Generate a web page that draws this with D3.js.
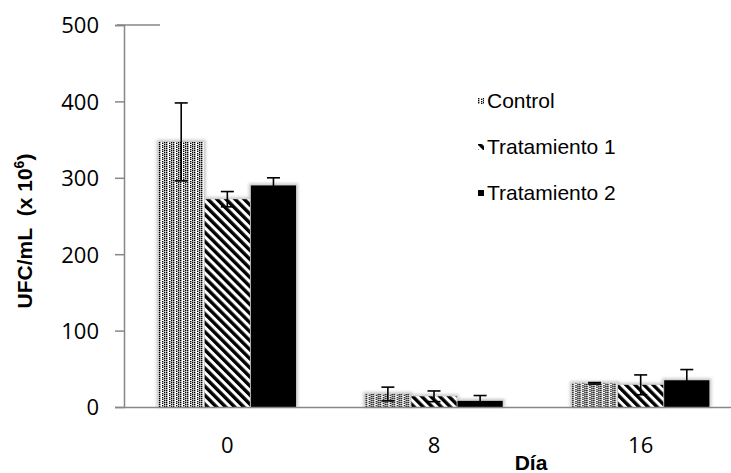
<!DOCTYPE html>
<html>
<head>
<meta charset="utf-8">
<script src="https://cdn.jsdelivr.net/npm/d3@7"></script>
<style>
  body { margin: 0; background: #fff; }
  svg { display: block; }
</style>
</head>
<body>
<svg id="chart" width="731" height="473"></svg>
<script>
  // data
  var days = ['0', '8', '16'];
  var series = ['Control', 'Tratamiento 1', 'Tratamiento 2'];
  var control = [347, 17, 31];
  var controlErr = [51, 9, 1];
  var trat1 = [272, 14, 29];
  var trat1Err = [10, 7, 13];
  var trat2 = [290, 8, 35];
  var trat2Err = [10, 7, 14];
  var yTicks = [0, 100, 200, 300, 400, 500];

  var values = [control, trat1, trat2];
  var errors = [controlErr, trat1Err, trat2Err];
  var fills = ['url(#dots)', 'url(#stripes)', '#000'];

  var svg = d3.select('#chart');
  var axisColor = '#878787';

  var x0 = d3.scaleBand().domain(days).range([124, 744]).padding(0);
  var x1 = d3.scaleBand().domain(series)
    .range([x0.bandwidth() * 0.163, x0.bandwidth() * 0.837]).padding(0.02);
  var y = d3.scaleLinear().domain([0, 500]).range([407, 25]);

  // patterns
  var defs = svg.append('defs');
  var dots = defs.append('pattern').attr('id', 'dots')
    .attr('patternUnits', 'userSpaceOnUse').attr('width', 7).attr('height', 4);
  dots.append('rect').attr('width', 7).attr('height', 4).attr('fill', '#fff');
  [[0, 0], [0, 2], [3, 1], [3, 3], [5, 0], [5, 2]].forEach(function (p) {
    dots.append('rect').attr('x', p[0]).attr('y', p[1])
      .attr('width', 1.4).attr('height', 1.4).attr('fill', '#000');
  });

  var stripes = defs.append('pattern').attr('id', 'stripes')
    .attr('patternUnits', 'userSpaceOnUse').attr('width', 6.4).attr('height', 6.4)
    .attr('patternTransform', 'rotate(-45)');
  stripes.append('rect').attr('width', 6.4).attr('height', 6.4).attr('fill', '#fff');
  stripes.append('rect').attr('width', 3.4).attr('height', 6.4).attr('fill', '#000');

  var blur = defs.append('filter').attr('id', 'soft')
    .attr('x', '-20%').attr('y', '-20%').attr('width', '140%').attr('height', '140%');
  blur.append('feGaussianBlur').attr('stdDeviation', 1.6);

  // short top stroke at 500
  svg.append('line')
    .attr('x1', 117).attr('x2', 160).attr('y1', y(500)).attr('y2', y(500))
    .attr('stroke', axisColor).attr('stroke-width', 1.5);

  var yAxis = svg.append('g')
    .attr('transform', 'translate(' + x0.range()[0] + ',0)')
    .call(d3.axisLeft(y).tickValues(yTicks).tickSize(9).tickPadding(16));
  yAxis.select('.domain').attr('stroke', axisColor).attr('stroke-width', 1.5);
  yAxis.selectAll('.tick line').attr('stroke', axisColor).attr('stroke-width', 1.5);
  yAxis.selectAll('.tick text')
    .attr('font-family', '"Open Sans", sans-serif').attr('font-size', 22)
    .attr('fill', '#000').attr('dy', '0.36em');

  // bars
  var groups = svg.selectAll('g.day').data(days).enter().append('g')
    .attr('class', 'day')
    .attr('transform', function (d) { return 'translate(' + x0(d) + ',0)'; });

  series.forEach(function (s, si) {
    groups.append('rect')
      .attr('x', x1(s) - 2).attr('y', function (d, di) { return y(values[si][di]) - 2; })
      .attr('width', x1.bandwidth() + 4)
      .attr('height', function (d, di) { return y(0) - y(values[si][di]) + 2; })
      .attr('fill', '#c8c8c8').attr('filter', 'url(#soft)');
  });
  series.forEach(function (s, si) {
    groups.append('rect')
      .attr('x', x1(s)).attr('y', function (d, di) { return y(values[si][di]); })
      .attr('width', x1.bandwidth())
      .attr('height', function (d, di) { return y(0) - y(values[si][di]); })
      .attr('fill', fills[si]);
  });

  // error bars
  series.forEach(function (s, si) {
    var cx = x1(s) + x1.bandwidth() / 2;
    var eb = groups.append('g').attr('stroke', '#000').attr('stroke-width', 1.6);
    eb.append('line').attr('x1', cx).attr('x2', cx)
      .attr('y1', function (d, di) { return y(values[si][di] + errors[si][di]); })
      .attr('y2', function (d, di) { return y(Math.max(0, values[si][di] - errors[si][di])); });
    [1, -1].forEach(function (sign) {
      eb.append('line').attr('x1', cx - 6.5).attr('x2', cx + 6.5)
        .attr('y1', function (d, di) { return y(values[si][di] + sign * errors[si][di]); })
        .attr('y2', function (d, di) { return y(values[si][di] + sign * errors[si][di]); });
    });
  });

  // x axis
  var xAxis = svg.append('g')
    .attr('transform', 'translate(0,' + y(0) + ')')
    .call(d3.axisBottom(x0).tickSize(0).tickPadding(30));
  xAxis.select('.domain').attr('stroke', axisColor).attr('stroke-width', 1.5);
  xAxis.selectAll('.tick text')
    .attr('font-family', '"Open Sans", sans-serif').attr('font-size', 22)
    .attr('fill', '#000');

  // axis titles
  var yTitle = svg.append('text')
    .attr('transform', 'translate(32,231) rotate(-90)')
    .attr('text-anchor', 'middle')
    .attr('font-family', '"Liberation Sans", Arial, sans-serif')
    .attr('font-size', 21).attr('font-weight', 'bold');
  yTitle.append('tspan').text('UFC/mL\u00a0\u00a0(x 10');
  yTitle.append('tspan').attr('dy', -8).attr('font-size', 14).text('6');
  yTitle.append('tspan').attr('dy', 8).text(')');

  svg.append('text')
    .attr('x', 531).attr('y', 470)
    .attr('text-anchor', 'middle')
    .attr('font-family', '"Liberation Sans", Arial, sans-serif')
    .attr('font-size', 21).attr('font-weight', 'bold')
    .text('Día');

  // legend
  var legendY = [108, 154, 200];
  var legend = svg.selectAll('g.legend').data(series).enter().append('g')
    .attr('class', 'legend')
    .attr('transform', function (d, i) { return 'translate(478,' + legendY[i] + ')'; });
  legend.append('rect')
    .attr('x', 0).attr('y', -10).attr('width', 6).attr('height', 6)
    .attr('fill', function (d, i) { return fills[i]; });
  legend.append('text')
    .attr('x', 9).attr('y', 0)
    .attr('font-family', '"Liberation Sans", Arial, sans-serif')
    .attr('font-size', 21)
    .text(function (d) { return d; });
</script>
</body>
</html>
